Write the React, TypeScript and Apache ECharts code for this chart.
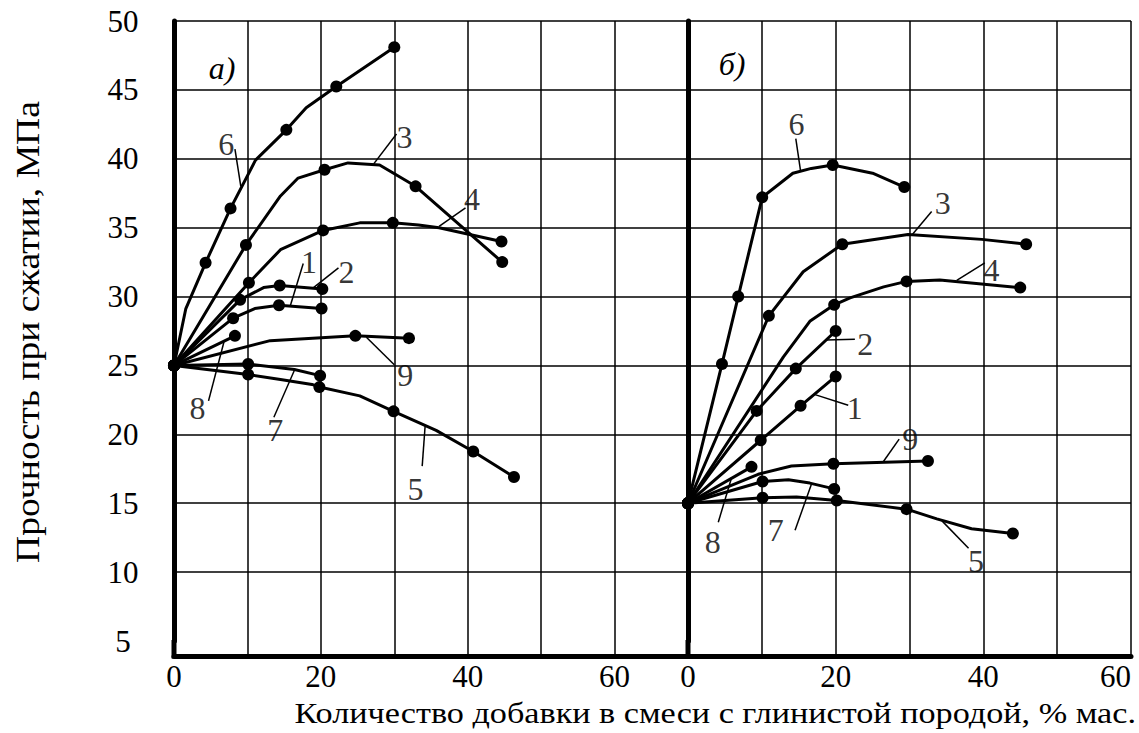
import React, { useEffect, useRef } from "react";
import * as echarts from "echarts";

type P = [number, number, number]; // x, y, dot (1 = marker)
type Lbl = [string, number, number]; // text, x, y
type Ldr = [number, number, number, number]; // x1, y1, x2, y2

// ---- axes ----
const xTickLabels = [0, 20, 40, 60];
const yTickLabels = [5, 10, 15, 20, 25, 30, 35, 40, 45, 50];
const yTitle = "Прочность при сжатии, МПа";
const xTitle = "Количество добавки в смеси с глинистой породой, % мас.";
const panelTitles = ["а)", "б)"];

// ---- panel а) ----
const a1: P[] = [[0, 25, 1], [8.05, 28.43, 1], [11.0, 29.13, 0], [14.3, 29.37, 1], [20.1, 29.13, 1]];
const a2: P[] = [[0, 25, 1], [9.0, 29.76, 1], [12.2, 30.65, 0], [14.4, 30.8, 1], [20.2, 30.55, 1]];
const a3: P[] = [[0, 25, 1], [9.8, 33.75, 1], [14.5, 37.3, 0], [16.9, 38.6, 0], [20.5, 39.2, 1], [23.7, 39.7, 0], [28.0, 39.55, 0], [32.9, 38.0, 1], [44.7, 32.5, 1]];
const a4: P[] = [[0, 25, 1], [10.2, 31.0, 1], [14.5, 33.4, 0], [20.3, 34.8, 1], [25.3, 35.35, 0], [29.8, 35.35, 1], [33.3, 35.2, 0], [36.1, 35.0, 0], [44.6, 34.0, 1]];
const a5: P[] = [[0, 25, 1], [10.1, 24.34, 1], [14.5, 23.98, 0], [18.8, 23.62, 0], [19.8, 23.43, 1], [25.3, 22.79, 0], [29.9, 21.67, 1], [35.7, 20.29, 0], [40.75, 18.75, 1], [46.3, 16.9, 1]];
const a6: P[] = [[0, 25, 1], [1.6, 29.1, 0], [4.3, 32.45, 1], [7.7, 36.4, 1], [11.1, 39.9, 0], [15.3, 42.1, 1], [18.0, 43.7, 0], [22.1, 45.25, 1], [30.0, 48.1, 1]];
const a7: P[] = [[0, 25, 1], [10.1, 25.1, 1], [16.4, 24.7, 0], [19.9, 24.26, 1]];
const a8: P[] = [[0, 25, 1], [8.3, 27.15, 1]];
const a9: P[] = [[0, 25, 1], [13.1, 26.8, 0], [24.7, 27.15, 1], [32.0, 26.98, 1]];

const labelsA: Lbl[] = [["6", 7.1, 41.05], ["3", 31.4, 41.57], ["4", 40.6, 37.1], ["1", 18.4, 32.52], ["2", 23.5, 31.79], ["9", 31.5, 24.34], ["8", 3.2, 21.9], ["7", 13.8, 20.29], ["5", 32.9, 16.03]];
const leadersA: Ldr[] = [[8.3, 40.7, 9.1, 38.0], [30.3, 41.8, 27.2, 39.63], [39.7, 36.44, 36.1, 35.1], [17.6, 32.4, 15.85, 29.35], [22.4, 32.08, 19.0, 30.65], [30.0, 25.05, 26.2, 27.05], [4.7, 22.43, 6.8, 26.7], [13.6, 21.24, 16.4, 24.65], [33.8, 17.69, 34.2, 20.6]];

// ---- panel б) ----
const b1: P[] = [[0, 15, 1], [9.85, 19.57, 1], [15.25, 22.07, 1], [20.0, 24.2, 1]];
const b2: P[] = [[0, 15, 1], [9.3, 21.7, 1], [14.6, 24.77, 1], [20.0, 27.5, 1]];
const b3: P[] = [[0, 15, 1], [10.95, 28.6, 1], [15.6, 31.8, 0], [20.9, 33.8, 1], [29.8, 34.5, 0], [39.8, 34.15, 0], [45.8, 33.8, 1]];
const b4: P[] = [[0, 15, 1], [12.9, 25.6, 0], [16.5, 28.2, 0], [19.8, 29.4, 1], [21.95, 29.9, 0], [26.5, 30.7, 0], [29.6, 31.1, 1], [34.1, 31.2, 0], [45.0, 30.65, 1]];
const b5: P[] = [[0, 15, 1], [10.1, 15.4, 1], [14.7, 15.45, 0], [20.15, 15.2, 1], [29.6, 14.57, 1], [33.7, 13.86, 0], [38.4, 13.15, 0], [44.0, 12.8, 1]];
const b6: P[] = [[0, 15, 1], [4.6, 25.1, 1], [6.8, 30.0, 1], [10.05, 37.2, 1], [14.2, 38.95, 0], [16.7, 39.3, 0], [19.6, 39.55, 1], [25.0, 38.95, 0], [29.3, 37.95, 1]];
const b7: P[] = [[0, 15, 1], [10.1, 16.58, 1], [13.6, 16.7, 0], [16.5, 16.46, 0], [19.8, 16.04, 1]];
const b8: P[] = [[0, 15, 1], [8.6, 17.64, 1]];
const b9: P[] = [[0, 15, 1], [9.5, 17.1, 0], [14.0, 17.7, 0], [19.7, 17.87, 1], [32.5, 18.06, 1]];

const labelsB: Lbl[] = [["6", 14.7, 42.56], ["3", 34.5, 36.79], ["4", 41.1, 31.95], ["2", 24.0, 26.58], ["1", 22.6, 21.88], ["9", 30.1, 19.65], ["8", 3.35, 12.2], ["7", 11.9, 13.03], ["5", 39.0, 10.78]];
const leadersB: Ldr[] = [[14.6, 41.46, 15.25, 39.1], [33.0, 36.18, 30.3, 34.45], [40.2, 32.44, 36.4, 31.17], [22.6, 26.9, 18.7, 26.84], [21.7, 22.11, 17.1, 22.9], [28.6, 19.65, 26.4, 17.97], [4.1, 13.62, 5.9, 16.85], [14.5, 13.03, 16.75, 16.44], [38.0, 11.73, 34.4, 13.72]];

const curvesA = [a1, a2, a3, a4, a5, a6, a7, a8, a9];
const curvesB = [b1, b2, b3, b4, b5, b6, b7, b8, b9];

// ---- layout ----
const W = 1139;
const H = 733;
const TOP = 21;
const PLOT_H = 620;
const DROP = 15;
const gridA = { left: 174, top: TOP, width: 514, height: PLOT_H };
const gridB = { left: 688, top: TOP, width: 443, height: PLOT_H };
const FONT = '"Liberation Serif", "Times New Roman", serif';
const INK = "#000";

function App() {
  const ref = useRef<HTMLDivElement>(null);
  useEffect(() => {
    if (!ref.current) return;
    const chart = echarts.init(ref.current, undefined, { renderer: "svg" });

    const curve = (pts: P[], i: number) => ({
      type: "line",
      xAxisIndex: i,
      yAxisIndex: i,
      data: pts.map(([x, y, d]) => ({ value: [x, y], symbol: d ? "circle" : "none" })),
      symbolSize: 12,
      showSymbol: true,
      showAllSymbol: true,
      smooth: false,
      clip: false,
      silent: true,
      z: 3,
      lineStyle: { color: INK, width: 3 },
      itemStyle: { color: INK, borderWidth: 0 },
    });
    const labels = (l: Lbl[], i: number) => ({
      type: "scatter",
      xAxisIndex: i,
      yAxisIndex: i,
      silent: true,
      symbolSize: 1,
      itemStyle: { color: "rgba(0,0,0,0)" },
      z: 4,
      data: l.map(([t, x, y]) => ({ name: t, value: [x, y] })),
      label: { show: true, position: "inside", formatter: "{b}", fontFamily: FONT, fontSize: 32, color: INK },
    });
    const leaders = (l: Ldr[], i: number) => ({
      type: "lines",
      coordinateSystem: "cartesian2d",
      xAxisIndex: i,
      yAxisIndex: i,
      silent: true,
      z: 2,
      polyline: false,
      lineStyle: { color: INK, width: 1.5, opacity: 1, curveness: 0 },
      data: l.map(([x1, y1, x2, y2]) => ({ coords: [[x1, y1], [x2, y2]] })),
    });

    const gridLine = { show: true, lineStyle: { color: INK, width: 1.5 } };
    const xAxis = (i: number, max: number, alignRight: boolean) => ({
      gridIndex: i,
      type: "value",
      min: 0,
      max,
      interval: 10,
      offset: DROP,
      axisLine: { show: true, lineStyle: { color: INK, width: 5 } },
      axisTick: { show: true, inside: true, length: DROP, lineStyle: { color: INK, width: 1.5 } },
      axisLabel: {
        show: true,
        margin: 5,
        fontFamily: FONT,
        fontSize: 31,
        color: INK,
        alignMaxLabel: alignRight ? "right" : undefined,
        formatter: (v: number) => (xTickLabels.includes(v) ? String(v) : ""),
      },
      splitLine: gridLine,
    });
    const yAxis = (i: number, showLabels: boolean) => ({
      gridIndex: i,
      type: "value",
      min: yTickLabels[0],
      max: yTickLabels[yTickLabels.length - 1],
      interval: 5,
      axisLine: { show: true, lineStyle: { color: INK, width: 5 } },
      axisTick: { show: false },
      axisLabel: { show: showLabels, fontFamily: FONT, fontSize: 31, color: INK, align: "center", margin: 51 },
      splitLine: { ...gridLine, showMinLine: false },
    });

    const stub = (g: { left: number }) => ({
      type: "rect",
      shape: { x: g.left - 2.5, y: TOP + PLOT_H - 1, width: 5, height: DROP + 3.5 },
      style: { fill: INK },
      silent: true,
      z: 10,
    });

    chart.setOption({
      animation: false,
      backgroundColor: "#fff",
      grid: [gridA, gridB],
      xAxis: [xAxis(0, 70, false), xAxis(1, 60, true)],
      yAxis: [yAxis(0, true), yAxis(1, false)],
      series: [
        ...curvesA.map((c) => curve(c, 0)),
        ...curvesB.map((c) => curve(c, 1)),
        leaders(leadersA, 0),
        leaders(leadersB, 1),
        labels(labelsA, 0),
        labels(labelsB, 1),
      ],
      graphic: [
        stub(gridA),
        stub(gridB),
        {
          type: "text",
          x: 28,
          y: 332,
          rotation: Math.PI / 2,
          scaleX: 1.14,
          silent: true,
          style: { text: yTitle, font: `33px ${FONT}`, fill: INK, align: "center", verticalAlign: "middle" },
        },
        {
          type: "text",
          x: 1136,
          y: 713,
          scaleX: 1.14,
          silent: true,
          style: { text: xTitle, font: `30px ${FONT}`, fill: INK, align: "right", verticalAlign: "middle" },
        },
        {
          type: "text",
          x: 222,
          y: 68,
          silent: true,
          style: { text: panelTitles[0], font: `italic 32px ${FONT}`, fill: INK, align: "center", verticalAlign: "middle" },
        },
        {
          type: "text",
          x: 732,
          y: 64,
          silent: true,
          style: { text: panelTitles[1], font: `italic 32px ${FONT}`, fill: INK, align: "center", verticalAlign: "middle" },
        },
      ],
    });
    return () => chart.dispose();
  }, []);
  return (
    <div
      ref={ref}
      style={{ position: "fixed", left: 0, top: 0, width: W, height: H, background: "#fff" }}
    />
  );
}

export default App;
